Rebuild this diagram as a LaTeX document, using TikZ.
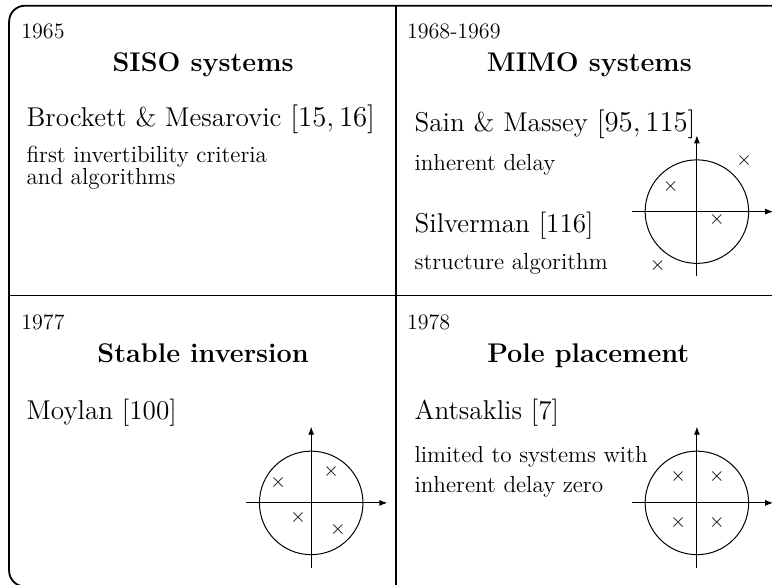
\documentclass[tikz,border=0pt]{standalone}
\usetikzlibrary{arrows.meta}

\begin{document}
\begin{tikzpicture}[>={Latex[length=4pt,width=3pt]},
  year/.style={anchor=base west,inner sep=0pt,font=\fontsize{11}{13}\selectfont},
  head/.style={anchor=base,inner sep=0pt,font=\fontsize{13.5}{16}\selectfont\bfseries},
  who/.style={anchor=base west,inner sep=0pt,font=\fontsize{13.6}{16}\selectfont},
  what/.style={anchor=base west,inner sep=0pt,font=\fontsize{11.6}{14}\selectfont},
  pole/.style={inner sep=0pt,font=\fontsize{10}{12}\selectfont}]
\useasboundingbox (-6.96,-5.08) rectangle (6.61,5.20);
% frame and dividers
\draw[line width=0.9pt,rounded corners=0.28cm] (-6.80,-5.11) rectangle (6.92,5.10);
\draw[line width=0.6pt] (-6.80,0) -- (6.92,0);
\draw[line width=0.6pt] (0,-5.11) -- (0,5.10);
% top left
\node[year] (y1) at (-6.59,4.52) {1965};
\node[head] (h1) at (-3.39,3.94) {SISO systems};
\node[who] (a1) at (-6.50,2.97) {Brockett \& Mesarovic $[15,16]$};
\node[what] (d1) at (-6.50,2.34) {first invertibility criteria};
\node[what] (d2) at (-6.50,1.95) {and algorithms};
% top right
\node[year] (y2) at (0.19,4.52) {1968-1969};
\node[head] (h2) at (3.40,3.94) {MIMO systems};
\node[who] (a2) at (0.32,2.88) {Sain \& Massey $[95,115]$};
\node[what] (d3) at (0.32,2.21) {inherent delay};
\node[who] (a3) at (0.32,1.12) {Silverman [116]};
\node[what] (d4) at (0.32,0.46) {structure algorithm};
% bottom left
\node[year] (y3) at (-6.59,-0.60) {1977};
\node[head] (h3) at (-3.39,-1.18) {Stable inversion};
\node[who] (a4) at (-6.50,-2.18) {Moylan [100]};
% bottom right
\node[year] (y4) at (0.19,-0.60) {1978};
\node[head] (h4) at (3.38,-1.18) {Pole placement};
\node[who] (a5) at (0.32,-2.18) {Antsaklis [7]};
\node[what] (d5) at (0.32,-2.93) {limited to systems with};
\node[what] (d6) at (0.32,-3.46) {inherent delay zero};
% unit circles
\foreach \cx/\cy in {5.29/1.48,-1.49/-3.64,5.29/-3.64} {
  \draw[line width=0.5pt] (\cx,\cy) circle (0.91);
  \draw[->,line width=0.5pt] (\cx-1.14,\cy) -- (\cx+1.34,\cy);
  \draw[->,line width=0.5pt] (\cx,\cy-1.14) -- (\cx,\cy+1.34);
}
\foreach \px/\py [count=\i] in {0.83/0.90,-0.46/0.44,0.35/-0.14,-0.69/-0.95}
  \node[pole] (pa\i) at (5.29+\px,1.48+\py) {$\times$};
\foreach \px/\py [count=\i] in {0.35/0.56,-0.58/0.35,-0.23/-0.25,0.47/-0.46}
  \node[pole] (pb\i) at (-1.49+\px,-3.64+\py) {$\times$};
\foreach \px/\py [count=\i] in {-0.33/0.46,0.35/0.46,-0.33/-0.35,0.35/-0.35}
  \node[pole] (pc\i) at (5.29+\px,-3.64+\py) {$\times$};
\end{tikzpicture}
\end{document}
